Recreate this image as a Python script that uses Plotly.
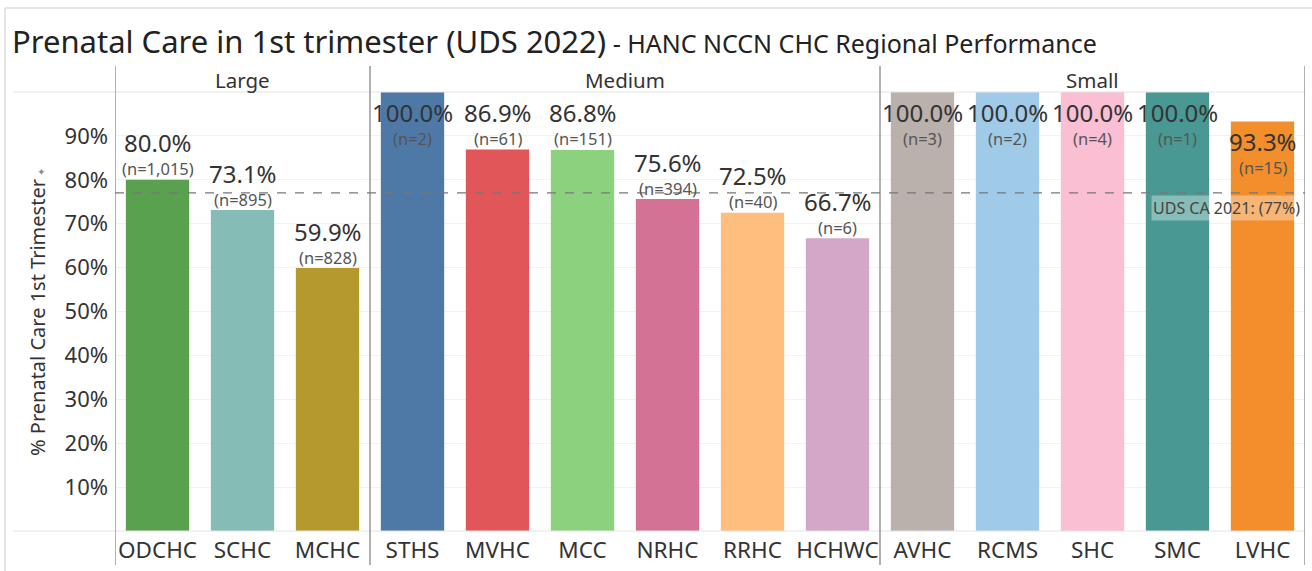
import plotly.graph_objects as go

# ---------------- data ----------------
centers = ["ODCHC", "SCHC", "MCHC",
           "STHS", "MVHC", "MCC", "NRHC", "RRHC", "HCHWC",
           "AVHC", "RCMS", "SHC", "SMC", "LVHC"]
groups = ["Large"] * 3 + ["Medium"] * 6 + ["Small"] * 5
pct_values = [0.800, 0.731, 0.599,
              1.000, 0.869, 0.868, 0.756, 0.725, 0.667,
              1.000, 1.000, 1.000, 1.000, 0.933]
n_values = ["1,015", "895", "828",
            "2", "61", "151", "394", "40", "6",
            "3", "2", "4", "1", "15"]
bar_colors = ["#59A14F", "#86BCB6", "#B6992D",
              "#4E79A7", "#E15759", "#8CD17D", "#D37295", "#FFBE7D", "#D4A6C8",
              "#BAB0AC", "#A0CBE8", "#FABFD2", "#499894", "#F28E2B"]
y_ticks = [0.1, 0.2, 0.3, 0.4, 0.5, 0.6, 0.7, 0.8, 0.9]
y_tick_labels = ["10%", "20%", "30%", "40%", "50%", "60%", "70%", "80%", "90%"]
benchmark = 0.77
benchmark_label = "UDS CA 2021: (77%)"

FONT = "Noto Sans"
W, H = 1312, 571
ML, MR, MT, MB = 115, 7, 92, 40
PW = W - ML - MR
PH = H - MT - MB


def px_x(x):  # pixel -> paper x
    return (x - ML) / PW


def px_y(y):  # pixel -> paper y
    return (H - MB - y) / PH


fig = go.Figure()
fig.add_trace(go.Bar(
    x=centers, y=pct_values, width=0.745,
    marker=dict(color=bar_colors, line=dict(width=0)),
    hoverinfo="x+y", showlegend=False,
))

annotations = []
for c, v, n in zip(centers, pct_values, n_values):
    inside = v >= 0.9
    annotations.append(dict(
        x=c, y=v, xref="x", yref="y", text=f"{v*100:.1f}%", showarrow=False,
        yanchor="middle", yshift=-20 if inside else 37,
        font=dict(family=FONT, size=24, color="#333333")))
    annotations.append(dict(
        x=c, y=v, xref="x", yref="y", text=f"(n={n})", showarrow=False,
        yanchor="middle", yshift=-46 if inside else 11,
        font=dict(family=FONT, size=16.5, color="#555555")))

# group headers
seen = []
for g in groups:
    if g not in seen:
        seen.append(g)
for g in seen:
    idx = [i for i, gg in enumerate(groups) if gg == g]
    annotations.append(dict(
        x=(idx[0] + idx[-1]) / 2, y=px_y(80), xref="x", yref="paper",
        text=g, showarrow=False, yanchor="middle",
        font=dict(family=FONT, size=20.5, color="#333333")))

# benchmark label
annotations.append(dict(
    x=len(centers) - 0.5, y=benchmark, xref="x", yref="y", xanchor="right",
    yanchor="top", xshift=-3, yshift=-2, text=benchmark_label, showarrow=False,
    bgcolor="rgba(255,255,255,0.35)",
    font=dict(family=FONT, size=16, color="#444444")))

# y axis title
annotations.append(dict(
    x=px_x(37), y=px_y(312), xref="paper", yref="paper",
    text="% Prenatal Care 1st Trimester<span style='font-size:10px;color:#888'> ✦</span>",
    textangle=-90, showarrow=False, xanchor="center", yanchor="middle",
    font=dict(family=FONT, size=20, color="#333333")))

shapes = []
# outer border (top & left)
shapes.append(dict(type="line", xref="paper", yref="paper",
                   x0=px_x(5), x1=px_x(W), y0=px_y(8), y1=px_y(8),
                   line=dict(color="#dddddd", width=1.5)))
shapes.append(dict(type="line", xref="paper", yref="paper",
                   x0=px_x(5), x1=px_x(5), y0=px_y(8), y1=px_y(H),
                   line=dict(color="#dddddd", width=1.5)))
# header bottom line and baseline
for yy in (MT, H - MB):
    shapes.append(dict(type="line", xref="paper", yref="paper",
                       x0=px_x(13), x1=1, y0=px_y(yy), y1=px_y(yy),
                       line=dict(color="#e4e4e4", width=1)))
# group separators
bounds = [-0.5]
for i in range(1, len(groups)):
    if groups[i] != groups[i - 1]:
        bounds.append(i - 0.5)
bounds.append(len(groups) - 0.5)
for b in bounds:
    shapes.append(dict(type="line", xref="x", yref="paper",
                       x0=b, x1=b, y0=px_y(565), y1=px_y(66),
                       line=dict(color="#9e9e9e", width=1.6)))
# benchmark line
shapes.append(dict(type="line", xref="x", yref="y",
                   x0=-0.5, x1=len(centers) - 0.5, y0=benchmark, y1=benchmark,
                   line=dict(color="#777777", width=1.2, dash="dash")))

fig.update_layout(
    width=W, height=H,
    margin=dict(l=ML, r=MR, t=MT, b=MB, pad=0),
    paper_bgcolor="white", plot_bgcolor="white",
    font=dict(family=FONT, color="#333333"),
    title=dict(
        text="Prenatal Care in 1st trimester (UDS 2022)"
             "<span style='font-size:25px'> - HANC NCCN CHC Regional Performance</span>",
        x=12 / W, xanchor="left", xref="container",
        y=1 - 42 / H, yanchor="middle", yref="container",
        font=dict(family=FONT, size=31, color="#222222")),
    xaxis=dict(
        categoryorder="array", categoryarray=centers,
        range=[-0.5, len(centers) - 0.5],
        showgrid=False, zeroline=False, showline=False, ticks="",
        ticklabelstandoff=3,
        tickfont=dict(family=FONT, size=22.5, color="#333333")),
    yaxis=dict(
        range=[0, 1], tickvals=y_ticks, ticktext=y_tick_labels,
        showgrid=True, gridcolor="#f2f2f2", gridwidth=1,
        zeroline=False, showline=False, ticks="", ticklabelstandoff=6,
        tickfont=dict(family=FONT, size=22, color="#333333")),
    bargap=0.25,
    annotations=annotations,
    shapes=shapes,
)

fig.write_html("out.html", config={"displayModeBar": False},
               post_script="document.body.style.margin='0';")
